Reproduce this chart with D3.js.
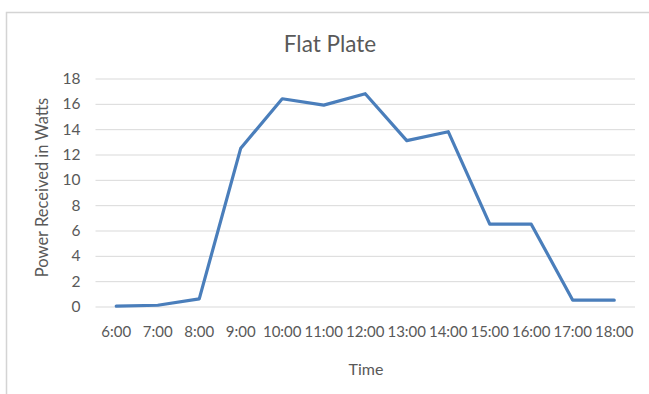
<!DOCTYPE html>
<html>
<head>
<meta charset="utf-8">
<script src="https://cdn.jsdelivr.net/npm/d3@7"></script>
<style>
  html, body { margin: 0; padding: 0; background: #ffffff; }
  svg { display: block; }
  text { font-family: Lato, "Open Sans", sans-serif; fill: #595959; }
</style>
</head>
<body>
<svg id="chart" width="649" height="394"></svg>
<script>
// Hourly readings for the flat plate collector
const times = ["6:00", "7:00", "8:00", "9:00", "10:00", "11:00", "12:00",
               "13:00", "14:00", "15:00", "16:00", "17:00", "18:00"];
const power = [0.03, 0.1, 0.6, 12.5, 16.4, 15.9, 16.8, 13.1, 13.8, 6.5, 6.5, 0.5, 0.5];
const yTicks = [0, 2, 4, 6, 8, 10, 12, 14, 16, 18];

const chartTitle = "Flat Plate";
const xTitle = "Time";
const yTitle = "Power Received in Watts";

const svg = d3.select("#chart");
const plot = { left: 95.5, right: 635, top: 78.5, bottom: 306.5 };

// Chart area frame (runs past the right and bottom edges of the view)
svg.append("rect")
  .attr("x", 6.5).attr("y", 12.5)
  .attr("width", 700).attr("height", 500)
  .attr("fill", "#ffffff")
  .attr("stroke", "#d4d4d4")
  .attr("stroke-width", 1.5);

const x = d3.scaleBand()
  .domain(times)
  .range([plot.left, plot.right])
  .paddingInner(0).paddingOuter(0);

const y = d3.scaleLinear()
  .domain([0, 18])
  .range([plot.bottom, plot.top]);

// Horizontal gridlines + value labels
const yAxis = d3.axisLeft(y)
  .tickValues(yTicks)
  .tickSize(-(plot.right - plot.left))
  .tickPadding(15)
  .tickFormat(d3.format("d"));

const gy = svg.append("g")
  .attr("transform", `translate(${plot.left},0)`)
  .call(yAxis);
gy.select(".domain").remove();
gy.selectAll(".tick line").attr("stroke", "#d9d9d9").attr("stroke-width", 1);
gy.selectAll(".tick text")
  .attr("font-size", 15.5)
  .style("font-family", "Lato, sans-serif")
  .attr("fill", "#595959");

// Category labels along the bottom
const xAxis = d3.axisBottom(x).tickSize(0).tickPadding(20);
const gx = svg.append("g")
  .attr("transform", `translate(0,${plot.bottom})`)
  .call(xAxis);
gx.select(".domain").remove();
gx.selectAll(".tick text")
  .attr("font-size", 15)
  .style("font-family", "Lato, sans-serif")
  .attr("fill", "#595959");

// Power line
const line = d3.line()
  .x((d, i) => x(times[i]) + x.bandwidth() / 2)
  .y(d => y(d));

svg.append("path")
  .datum(power)
  .attr("d", line)
  .attr("fill", "none")
  .attr("stroke", "#4a7ebb")
  .attr("stroke-width", 3.2)
  .attr("stroke-linejoin", "round")
  .attr("stroke-linecap", "round");

// Titles
svg.append("text")
  .attr("x", 330).attr("y", 52)
  .attr("text-anchor", "middle")
  .attr("font-size", 22.5)
  .text(chartTitle);

svg.append("text")
  .attr("x", 366).attr("y", 375)
  .attr("text-anchor", "middle")
  .attr("font-size", 16)
  .text(xTitle);

svg.append("text")
  .attr("transform", `translate(48,${(plot.top + plot.bottom) / 2 - 5}) rotate(-90)`)
  .attr("text-anchor", "middle")
  .attr("font-size", 16.5)
  .text(yTitle);
</script>
</body>
</html>
